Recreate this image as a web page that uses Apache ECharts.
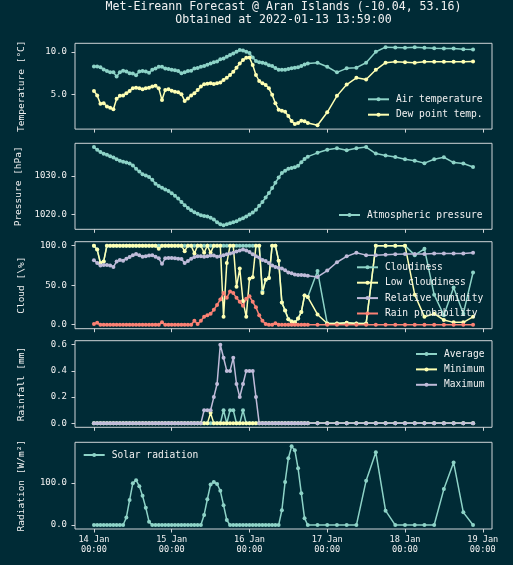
<!DOCTYPE html>
<html><head><meta charset="utf-8">
<script src="https://cdn.jsdelivr.net/npm/echarts@6/dist/echarts.min.js"></script>
<style>html,body{margin:0;padding:0;background:#002b36}#c{width:513px;height:565px}</style>
</head><body><div id="c"></div>
<script>
// hours after 14 Jan 2022 00:00
const hours = [0,1,2,3,4,5,6,7,8,9,10,11,12,13,14,15,16,17,18,19,20,21,22,23,24,25,26,27,28,29,30,31,32,33,34,35,36,37,38,39,40,41,42,43,44,45,46,47,48,49,50,51,52,53,54,55,56,57,58,59,60,61,62,63,64,65,66,69,72,75,78,81,84,87,90,93,96,99,102,105,108,111,114,117];
const tickHours = [0,24,48,72,96,120];
const tickLabels = ['14 Jan\n00:00','15 Jan\n00:00','16 Jan\n00:00','17 Jan\n00:00','18 Jan\n00:00','19 Jan\n00:00'];

const airTemp = [8.3,8.3,8.2,7.95,7.75,7.6,7.6,7.1,7.6,7.8,
 7.7,7.5,7.45,7.25,7.7,7.75,7.7,7.55,7.9,8.05,
 8.25,8.25,8.05,8.0,7.9,7.85,7.75,7.5,7.6,7.75,
 7.8,8.05,8.1,8.25,8.35,8.5,8.65,8.8,8.9,9.15,
 9.25,9.45,9.65,9.85,10.05,10.25,10.2,10.05,9.9,9.35,
 8.95,8.8,8.75,8.65,8.45,8.35,8.1,7.9,7.9,7.9,
 8.0,8.07,8.15,8.2,8.34,8.54,8.66,
 8.74,8.26,7.6,8.07,8.15,8.74,10.04,10.59,10.55,10.51,10.59,10.51,10.45,10.43,10.43,10.35,10.31];
const dewPoint = [5.39,4.84,3.85,3.93,3.54,3.4,3.2,4.45,4.8,4.84,
 5.1,5.39,5.7,5.78,5.7,5.58,5.7,5.78,5.9,6.0,
 5.7,4.3,5.5,5.58,5.4,5.3,5.24,5.0,4.2,4.5,
 4.84,5.1,5.5,5.9,6.18,6.25,6.3,6.2,6.3,6.4,
 6.7,6.96,7.28,7.67,8.15,8.66,9.05,9.33,9.37,8.46,
 7.28,6.57,6.3,6.1,5.7,4.92,3.93,3.15,3.03,2.9,
 2.4,1.8,1.45,1.57,1.85,1.77,1.57,
 1.3,2.85,4.8,6.15,6.95,6.75,7.9,8.75,8.85,8.8,8.75,8.85,8.85,8.85,8.85,8.85,8.9];
const pressure = [1037.6,1036.9,1036.3,1035.85,1035.6,1035.2,1034.9,1034.45,1034.0,1033.75,
 1033.55,1033.3,1032.8,1031.9,1031.2,1030.5,1030.15,1029.75,1029.05,1028.0,
 1027.4,1026.95,1026.5,1026.1,1025.5,1024.85,1024.1,1023.2,1022.35,1021.65,
 1021.05,1020.5,1020.1,1019.75,1019.55,1019.4,1019.05,1018.6,1017.9,1017.4,
 1017.1,1017.4,1017.65,1017.9,1018.15,1018.6,1018.95,1019.4,1019.9,1020.45,
 1021.2,1022.2,1023.2,1024.4,1025.55,1026.85,1028.25,1029.6,1030.8,1031.4,
 1031.9,1032.1,1032.3,1032.7,1033.6,1034.5,1035.1,
 1036.1,1036.9,1037.3,1036.8,1037.3,1037.6,1035.9,1035.4,1035.0,1034.4,1034.05,1033.4,1034.4,1034.95,1033.55,1033.3,1032.4];
const cloudiness = [100,95,78,80,100,100,100,100,100,100,
 100,100,100,100,100,100,100,100,100,100,
 100,100,100,100,100,100,100,100,100,100,
 100,100,100,100,100,100,100,100,100,100,
 100,100,100,100,100,100,100,100,100,100,
 100,100,42,57,59,100,100,81,28,18,
 7,4,3,8,16,37,35,
 68,1.5,1.5,2.5,1.5,1.5,100,100,100,100,88,96,38,12,47,14,66];
const lowCloud = [100,95,78,80,100,100,100,100,100,100,
 100,100,100,100,100,100,100,100,100,100,
 96,100,100,100,100,100,100,100,93,100,
 100,90,100,100,91,100,91,100,100,100,
 10,78,100,100,48,71,30,10,58,60,
 100,100,40,57,59,100,100,81,28,18,
 7,4,3,8,16,37,35,
 13,1.5,1.5,2.5,1.5,1.5,100,100,100,100,38,10,14,6,3,3,10];
const humidity = [81.5,78,75,75.5,75.5,75,73,80,82,81,
 83.5,85.5,88,89.5,88,86,86.5,87.5,88,86,
 84,77,84,84.5,84.5,84,83.5,83,78,80.5,
 83.5,85.5,86.5,86.5,86,86.5,87.5,87.5,86,86.5,
 88,89,90,91,92.5,94,95,94,92,89,
 86.5,85,82,80.5,78,75,73,72,71,69,
 66,65,63.5,63,63,62.5,62,
 60.5,68.5,79,86.5,91,88,88,88.5,89,89.5,89.5,89.5,90,90,90,90,91];
const rainProb = [1,2.5,0,0,0,0,0,0,0,0,
 0,0,0,0,0,0,0,0,0,0,
 0,3,0,0,0,0,0,0,0,0,
 0,5,1,5,10,12,14,19,25,32,
 40,34,42,40,34,29,24,33,36,29,
 22,12,5,1,0,0,2,0,0,0,
 0,0,0,0,0,0,0,
 0,0,0,0,0,0,0,0,0,0,0,0,0,0,0,0,0];
const rainAvg = [0,0,0,0,0,0,0,0,0,0,
 0,0,0,0,0,0,0,0,0,0,
 0,0,0,0,0,0,0,0,0,0,
 0,0,0,0,0,0,0,0,0,0,
 0.1,0,0.1,0.1,0,0,0.1,0,0,0,
 0,0,0,0,0,0,0,0,0,0,
 0,0,0,0,0,0,0,
 0,0,0,0,0,0,0,0,0,0,0,0,0,0,0,0,0];
const rainMin = [0,0,0,0,0,0,0,0,0,0,
 0,0,0,0,0,0,0,0,0,0,
 0,0,0,0,0,0,0,0,0,0,
 0,0,0,0,0,0,0.08,0,0,0,
 0,0,0,0,0,0,0,0,0,0,
 0,0,0,0,0,0,0,0,0,0,
 0,0,0,0,0,0,0,
 0,0,0,0,0,0,0,0,0,0,0,0,0,0,0,0,0];
const rainMax = [0,0,0,0,0,0,0,0,0,0,
 0,0,0,0,0,0,0,0,0,0,
 0,0,0,0,0,0,0,0,0,0,
 0,0,0,0,0.1,0.1,0.1,0.2,0.3,0.6,
 0.5,0.4,0.4,0.5,0.3,0.2,0.3,0.4,0.4,0.4,
 0.2,0,0,0,0,0,0,0,0,0,
 0,0,0,0,0,0,0,
 0,0,0,0,0,0,0,0,0,0,0,0,0,0,0,0,0];
const radiation = [0,0,0,0,0,0,0,0,0,0,
 18,59,99,106,92,69,41,8,0,0,
 0,0,0,0,0,0,0,0,0,0,
 0,0,0,0,24,61,96,102,97,81,
 47,12,0,0,0,0,0,0,0,0,
 0,0,0,0,0,0,0,0,35,102,
 158,186,177,134,75,16,0,
 0,0,0,0,0,105,172,34,0,0,0,0,0,85,148,30,0];

const C = {cyan:'#8dd3c7', yellow:'#feffb3', purple:'#bfbbd9', red:'#fa8174'};
const FONT = "'DejaVu Sans Mono', monospace";
const TEXT = '#f2f2f2';
const FRAME = '#cfd5d8';

const panels = [
  {top:43.3, h:85.8, min:0.85, max:11.05, ticks:[5,10], name:'Temperature [°C]'},
  {top:143.3, h:86, min:1016.05, max:1038.6, ticks:[1020,1030], name:'Pressure [hPa]'},
  {top:241.7, h:87, min:-5, max:105, ticks:[0,50,100], name:'Cloud [\\%]'},
  {top:340.7, h:86.6, min:-0.03, max:0.63, ticks:[0,0.2,0.4,0.6], name:'Rainfall [mm]'},
  {top:442.3, h:86.7, min:-9.3, max:195.6, ticks:[0,100], name:'Radiation [W/m²]'}
];

const grid = panels.map(p => ({left:75, top:p.top, width:417, height:p.h, show:true,
  borderColor:FRAME, borderWidth:1, backgroundColor:'transparent', containLabel:false}));
const xAxis = panels.map((p,i) => ({gridIndex:i, type:'value', min:-5.85, max:122.85, position:'bottom',
  axisLine:{show:false, onZero:false}, splitLine:{show:false},
  axisTick:{show:true, inside:false, length:3.5, customValues:tickHours, lineStyle:{color:FRAME, width:1}},
  axisLabel:{show:i===4, customValues:tickHours, margin:6, fontFamily:FONT, fontSize:8.6, lineHeight:9.6, color:TEXT,
    formatter:v => tickLabels[tickHours.indexOf(v)] || ''}}));
const yAxis = panels.map((p,i) => ({gridIndex:i, type:'value', min:p.min, max:p.max, position:'left',
  axisLine:{show:false, onZero:false}, splitLine:{show:false},
  axisTick:{show:true, inside:false, length:3.5, customValues:p.ticks, lineStyle:{color:FRAME, width:1}},
  axisLabel:{customValues:p.ticks, margin:8, fontFamily:FONT, fontSize:9, color:TEXT, formatter:v => v.toFixed(1)},
  name:p.name, nameLocation:'middle', nameRotate:90, nameGap:48,
  nameTextStyle:{fontFamily:FONT, fontSize:9.5, color:TEXT}}));

function mk(name, arr, color, gi) {
  return {name, type:'line', xAxisIndex:gi, yAxisIndex:gi,
    data: hours.map((h,k) => [h, arr[k]]),
    symbol:'circle', symbolSize:4, showAllSymbol:true,
    itemStyle:{color}, lineStyle:{color, width:1.5}, emphasis:{disabled:true}, silent:true};
}
const series = [
  mk('Air temperature', airTemp, C.cyan, 0),
  mk('Dew point temp.', dewPoint, C.yellow, 0),
  mk('Atmospheric pressure', pressure, C.cyan, 1),
  mk('Cloudiness', cloudiness, C.cyan, 2),
  mk('Low cloudiness', lowCloud, C.yellow, 2),
  mk('Relative humidity', humidity, C.purple, 2),
  mk('Rain probability', rainProb, C.red, 2),
  mk('Average', rainAvg, C.cyan, 3),
  mk('Minimum', rainMin, C.yellow, 3),
  mk('Maximum', rainMax, C.purple, 3),
  mk('Solar radiation', radiation, C.cyan, 4)
];
function lg(names, left, top) {
  return {data:names, orient:'vertical', left, top, padding:0, itemGap:3.4,
    itemWidth:21, itemHeight:5, align:'left', selectedMode:false,
    textStyle:{fontFamily:FONT, fontSize:9.6, color:TEXT, lineHeight:12, padding:[0,0,0,2]}};
}
const legend = [
  lg(['Air temperature','Dew point temp.'], 367, 93.3),
  lg(['Atmospheric pressure'], 338, 209),
  lg(['Cloudiness','Low cloudiness','Relative humidity','Rain probability'], 356, 261.3),
  lg(['Average','Minimum','Maximum'], 415, 348),
  lg(['Solar radiation'], 82.7, 449)
];

const chart = echarts.init(document.getElementById('c'), null, {renderer:'canvas'});
chart.setOption({
  backgroundColor:'#002b36', animation:false,
  title:{text:'Met-Eireann Forecast @ Aran Islands (-10.04, 53.16)\nObtained at 2022-01-13 13:59:00',
    left:283.5, top:1, textAlign:'center', padding:0,
    textStyle:{fontFamily:FONT, fontSize:11.6, fontWeight:'normal', color:TEXT, lineHeight:12.7}},
  grid, xAxis, yAxis, legend, series
});
</script></body></html>
